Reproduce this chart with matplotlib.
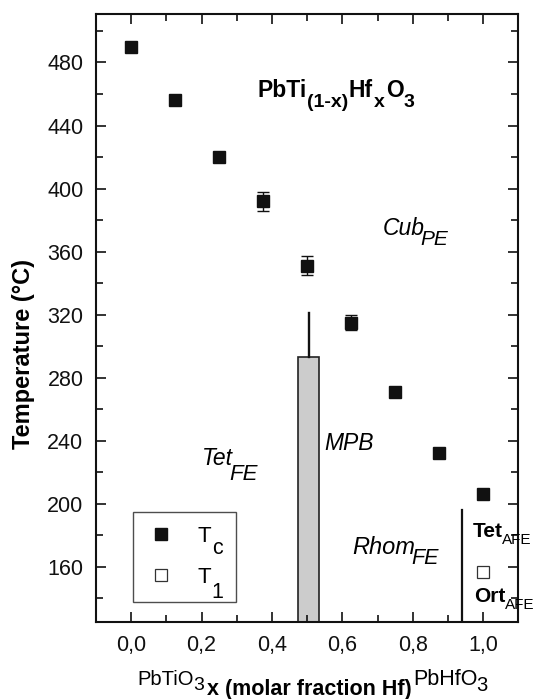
import numpy as np
import matplotlib
matplotlib.use("Agg")
import matplotlib.pyplot as plt
from matplotlib.ticker import MultipleLocator, FuncFormatter

plt.rcParams['font.family'] = ['Liberation Sans', 'DejaVu Sans']

# Curie temperature T_c vs Hf fraction
x_tc = [0.0, 0.125, 0.25, 0.375, 0.5, 0.625, 0.75, 0.875, 1.0]
t_tc = [490, 456, 420, 392, 351, 315, 271, 232, 206]
err_tc = [0, 0, 0, 6, 6, 5, 0, 0, 0]

# T_1 transition (AFE)
x_t1 = [1.0]
t_t1 = [157]
err_t1 = [3]
xerr_t1 = [0.012]

# MPB region
mpb_x = 0.505
mpb_width = 0.06
mpb_top = 293
mpb_err = 28

# Boundary of AFE region
afe_x = 0.94
afe_top = 196

fig = plt.figure(figsize=(5.33, 6.99), dpi=100)
ax = fig.add_axes([0.18, 0.11, 0.7926, 0.8705])

ylo, yhi = 125, 511
ax.bar([mpb_x], [mpb_top - ylo], bottom=ylo, width=mpb_width,
       color='#cccccc', edgecolor='#222222', linewidth=1.2, zorder=1)
ax.plot([mpb_x, mpb_x], [mpb_top, mpb_top + mpb_err], color='#111111', lw=1.7, zorder=1)
ax.plot([afe_x, afe_x], [ylo, afe_top], color='#111111', lw=1.6, zorder=1)

tc = ax.errorbar(x_tc, t_tc, yerr=err_tc, fmt='s', color='#111111', ms=9,
                 capsize=4, elinewidth=1, capthick=1, zorder=3)
t1 = ax.errorbar(x_t1, t_t1, yerr=err_t1, xerr=xerr_t1, fmt='s', mfc='white',
                 mec='#333333', ecolor='#333333', ms=8, mew=0.9, capsize=0,
                 elinewidth=0.8, zorder=3)

ax.set_xlim(-0.1, 1.1)
ax.set_ylim(ylo, yhi)
ax.xaxis.set_major_locator(MultipleLocator(0.2))
ax.xaxis.set_minor_locator(MultipleLocator(0.1))
ax.yaxis.set_major_locator(MultipleLocator(40))
ax.yaxis.set_minor_locator(MultipleLocator(20))
ax.xaxis.set_major_formatter(FuncFormatter(lambda v, p: f"{v:.1f}".replace('.', ',')))
ax.yaxis.set_major_formatter(FuncFormatter(lambda v, p: f"{v:.0f}"))
ax.tick_params(which='both', direction='in', top=True, right=True,
               labelsize=15.5, width=1.2, pad=9, colors='#111111')
ax.tick_params(which='major', length=7)
ax.tick_params(which='minor', length=5)
for s in ax.spines.values():
    s.set_linewidth(1.5)
    s.set_color('#111111')

ax.set_ylabel('Temperature (°C)', fontsize=17, fontweight='bold')
ax.yaxis.set_label_coords(-0.145, 0.441)


def sub_label(anchor, sub, size, drop, gap=-1.0, weight='normal', style='normal',
              desc=None, z=3):
    # subscript placed right after the anchor text, dropped below its baseline
    base = anchor.get_fontsize()
    d = 0.21 * base if desc is None else desc
    return ax.annotate(sub, xy=(1, 0), xycoords=anchor, xytext=(gap, d - drop),
                       textcoords='offset points', fontsize=size, fontweight=weight,
                       fontstyle=style, ha='left', va='baseline',
                       annotation_clip=False, zorder=z)


def phase_label(x, y, main, sub, size=16.5, subsize=15, drop=7, style='italic',
                weight='normal', gap=-2.5):
    t = ax.text(x, y, main, fontsize=size, fontstyle=style, fontweight=weight,
                ha='left', va='baseline')
    sub_label(t, sub, subsize, drop, gap=gap, style=style)
    return t


def follow(anchor, s, size, rise, gap=-1.0):
    # continue text on the main baseline after a subscript
    return ax.annotate(s, xy=(1, 0), xycoords=anchor,
                       xytext=(gap, 0.21 * anchor.get_fontsize() + rise),
                       textcoords='offset points', fontsize=size, fontweight='bold',
                       ha='left', va='baseline', annotation_clip=False)


# compound formula
fs, ss, dr = 16.5, 14, 6.7
t = ax.text(0.359, 458, 'PbTi', fontsize=fs, fontweight='bold', ha='left', va='baseline')
t = sub_label(t, '(1-x)', ss, dr, gap=0.3, weight='bold')
t = follow(t, 'Hf', fs, dr, gap=0.2)
t = sub_label(t, 'x', ss, dr, gap=0.5, weight='bold')
t = follow(t, 'O', fs, dr, gap=1.0)
sub_label(t, '3', ss, dr, gap=0.3, weight='bold')

# phase regions
phase_label(0.7135, 370.4, 'Cub', 'PE', drop=6.7)
ax.text(0.549, 234, 'MPB', fontsize=16.5, fontstyle='italic', ha='left', va='baseline')
phase_label(0.201, 224.5, 'Tet', 'FE', subsize=16, drop=10.5)
phase_label(0.628, 168.5, 'Rhom', 'FE', size=17, subsize=15.5, drop=7.2)
phase_label(0.970, 178.8, 'Tet', 'AFE', size=15, subsize=11, drop=5, style='normal',
            weight='bold', gap=-0.5)
phase_label(0.974, 137.8, 'Ort', 'AFE', size=15, subsize=11, drop=5, style='normal',
            weight='bold', gap=-0.5)

# legend, frame stretched to the width of the original box
leg = ax.legend([tc[0], t1[0]], ['T', 'T'],
                loc='lower left', bbox_to_anchor=(0.087, 0.033, 0.2457, 0.1),
                mode='expand', fontsize=16,
                frameon=True, fancybox=False, edgecolor='#222222',
                handlelength=1.3, handletextpad=0.97, borderpad=0.64,
                labelspacing=0.88, borderaxespad=0)
leg.get_frame().set_linewidth(1.0)
for txt, s, d in zip(leg.get_texts(), ['c', '1'], [8.5, 11]):
    sub_label(txt, s, 15.5, d, gap=0.5, z=6)

# x axis label with end-member compositions
pt = fig.text(137.7 / 533, 1 - 685 / 699, 'PbTiO', fontsize=14.5, ha='left', va='baseline')
ax.annotate('3', xy=(1, 0), xycoords=pt, xytext=(-0.5, 0.21 * 14.5 - 3.7),
            textcoords='offset points', fontsize=14, ha='left', va='baseline',
            annotation_clip=False)
fig.text(207 / 533, 1 - 695 / 699, 'x (molar fraction Hf)', fontsize=15.5,
         fontweight='bold', ha='left', va='baseline')
ph = fig.text(413 / 533, 1 - 685 / 699, 'PbHfO', fontsize=15.5, ha='left', va='baseline')
ax.annotate('3', xy=(1, 0), xycoords=ph, xytext=(-0.5, 0.21 * 15.5 - 3.7),
            textcoords='offset points', fontsize=14.5, ha='left', va='baseline',
            annotation_clip=False)

fig.savefig('out.png', dpi=100)
